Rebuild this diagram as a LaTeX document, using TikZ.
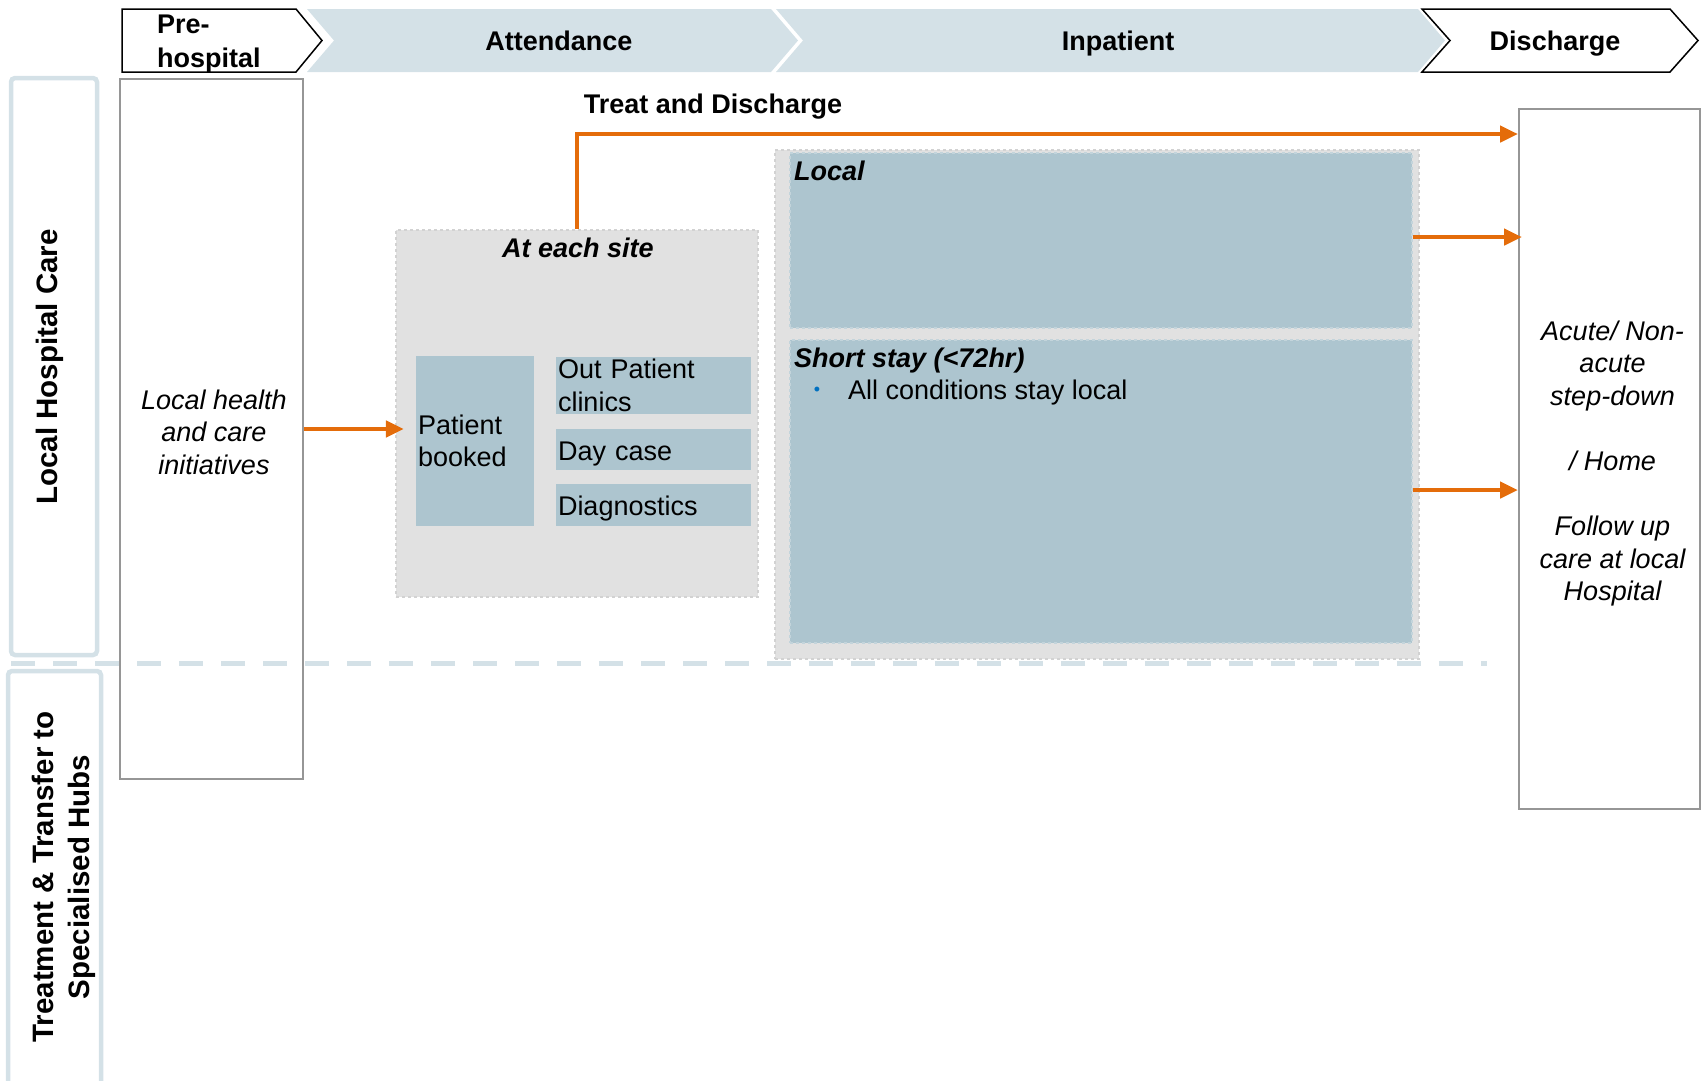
\documentclass[tikz,border=0pt]{standalone}
\usepackage{fontspec}
\setmainfont{Liberation Sans}
\usetikzlibrary{arrows.meta}
\definecolor{bandblue}{HTML}{D4E1E7}
\definecolor{cellblue}{HTML}{ADC5CF}
\definecolor{celledge}{HTML}{C3D4DB}
\definecolor{sitegray}{HTML}{E1E1E1}
\definecolor{siteedge}{HTML}{D2D2D2}
\definecolor{framegray}{HTML}{969696}
\definecolor{flowor}{HTML}{E46C0A}
\definecolor{bulletblue}{HTML}{0070C0}
\newcommand{\bodysize}{\fontsize{27}{32.6}\selectfont}
\begin{document}
\begin{tikzpicture}[x=1pt,y=-1pt,
  stage/.style={fill=bandblue, draw=none},
  stageend/.style={fill=white, draw=black, line width=1.5pt, line join=miter},
  headtext/.style={font=\fontsize{27}{34}\selectfont\bfseries, inner sep=0pt, anchor=base},
  lane/.style={draw=bandblue, line width=4.5pt, rounded corners=4pt, inner sep=0pt},
  lanetext/.style={font=\fontsize{29.5}{35.5}\selectfont\bfseries, rotate=90, inner sep=0pt, align=center},
  column/.style={draw=framegray, line width=2pt, inner sep=0pt},
  columntext/.style={align=center, font=\bodysize\itshape, inner sep=0pt},
  zone/.style={fill=sitegray, draw=siteedge, dashed, line width=1.5pt, inner sep=0pt},
  panel/.style={fill=cellblue, draw=celledge, dashed, line width=1.5pt, inner sep=0pt},
  cell/.style={fill=cellblue, inner xsep=2pt, inner ysep=0pt, align=left, font=\bodysize},
  oneline/.style={text height=21pt, text depth=0pt},
  title/.style={font=\bodysize\bfseries\itshape, inner sep=0pt},
  plain/.style={font=\bodysize, inner sep=0pt},
  flow/.style={draw=flowor, line width=4.5pt, -{Triangle[length=18pt,width=16pt]}}
]
\useasboundingbox (0,0) rectangle (1702,1080);

% stage chevrons along the top
\path[stageend] (122,9) -- (296,9) -- (322,40.5) -- (296,72) -- (122,72) -- cycle;
\path[stage] (307,9) -- (771,9) -- (798,40.5) -- (771,72) -- (307,72) -- (334,40.5) -- cycle;
\path[stage] (776,9) -- (1418,9) -- (1445,40.5) -- (1418,72) -- (776,72) -- (803,40.5) -- cycle;
\path[stageend] (1422,9) -- (1670,9) -- (1698,40.5) -- (1670,72) -- (1422,72) -- (1450,40.5) -- cycle;
\node[headtext, anchor=base west, align=left] (hpre) at (157,67.5) {Pre-\\hospital};
\node[headtext] (hatt) at (559,50) {Attendance};
\node[headtext] (hinp) at (1118,50) {Inpatient};
\node[headtext] (hdis) at (1555,50) {Discharge};

% swim lanes on the left
\node[lane, minimum width=86pt, minimum height=577pt] (lanelocal) at (54,366.5) {};
\node[lane, minimum width=93pt, minimum height=425pt] (lanehub) at (54.5,883.5) {};
\node[lanetext] (lanelocaltext) at (50,367) {Local Hospital Care};
\node[lanetext] (lanehubtext) at (64,877) {Treatment \& Transfer to\\Specialised Hubs};

% pre-hospital and discharge columns
\node[column, minimum width=183pt, minimum height=700pt] (pre) at (211.5,429) {};
\node[columntext] (pretext) at (214,432) {Local health\\and care\\initiatives};
\node[column, minimum width=181pt, minimum height=700pt] (disc) at (1609.5,459) {};
\node[columntext] (disctext) at (1612.5,463.5)
  {Acute/ Non-\\acute\\step-down\\\mbox{}\\/ Home\\\mbox{}\\Follow up\\care at local\\Hospital};

% attendance at each site
\node[zone, minimum width=362pt, minimum height=367pt] (site) at (577,413.5) {};
\node[title, anchor=base] (sitetitle) at (578,257) {At each site};
\node[cell, text width=114pt, minimum height=170pt] (booked) at (475,441) {Patient\\booked};
\node[cell, text width=191pt, minimum height=57pt] (opc) at (653.5,385.5) {Out Patient\\clinics};
\node[cell, oneline, text width=191pt, minimum height=41pt] (day) at (653.5,449.5) {Day case};
\node[cell, oneline, text width=191pt, minimum height=42pt] (diag) at (653.5,505) {Diagnostics};

% inpatient area
\node[zone, minimum width=644pt, minimum height=509pt] (inp) at (1097,404.5) {};
\node[panel, minimum width=622pt, minimum height=175pt] (local) at (1101,240.5) {};
\node[panel, minimum width=622pt, minimum height=303pt] (short) at (1101,491.5) {};
\node[title, anchor=base west] (localtitle) at (794,180) {Local};
\node[title, anchor=base west] (shorttitle) at (794,367) {Short stay (<72hr)};
\node[inner sep=0pt, text=bulletblue, font=\fontsize{18}{20}\selectfont] (dot) at (817,391) {\textbullet};
\node[plain, anchor=base west] (shorttext) at (848,399.5) {All conditions stay local};

% boundary between the two lanes
\draw[bandblue, line width=5pt, dash pattern=on 24pt off 18pt] (11,663) -- (1487,663);

% patient flows
\coordinate (tdbend) at (577,134);
\draw[flow] (site.north) -- (tdbend) -- (tdbend -| disc.west);
\node[plain, font=\bodysize\bfseries, anchor=base] (tdlabel) at (713,113) {Treat and Discharge};
\draw[flow, shorten >=12pt] (pre.east |- 0,429) -- (booked.west |- 0,429);
\draw[flow, shorten >=-4pt] (local.east |- 0,237) -- (disc.west |- 0,237);
\draw[flow] (short.east |- 0,490) -- (disc.west |- 0,490);
\end{tikzpicture}
\end{document}
